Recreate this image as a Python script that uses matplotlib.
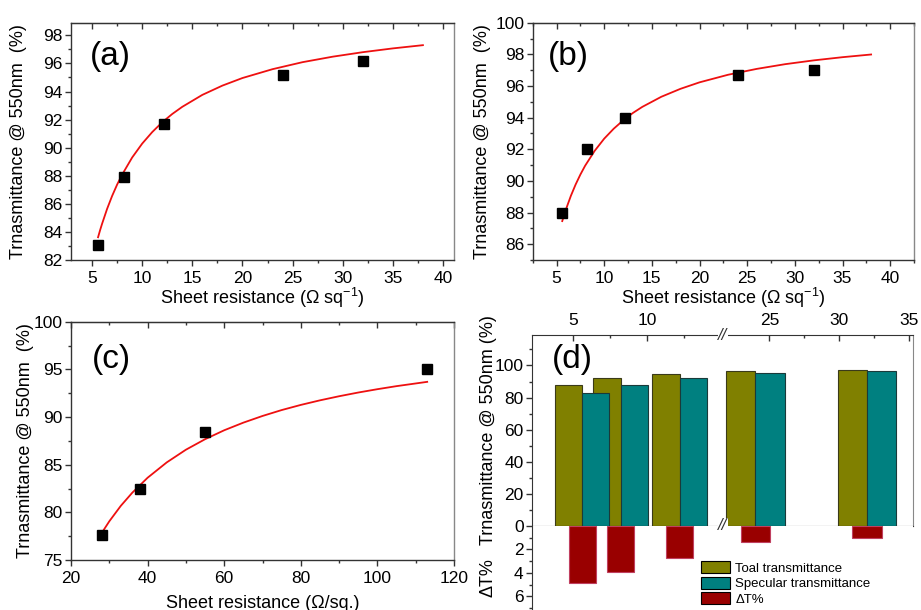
import numpy as np
import matplotlib
matplotlib.use('Agg')
import matplotlib.pyplot as plt
from matplotlib.ticker import MultipleLocator, FixedLocator
from matplotlib.patches import Patch
from matplotlib.transforms import blended_transform_factory

plt.rcParams['font.family'] = ['Liberation Sans', 'DejaVu Sans']
plt.rcParams['mathtext.fontset'] = 'custom'
plt.rcParams['mathtext.rm'] = 'Liberation Sans'
plt.rcParams['mathtext.it'] = 'Liberation Sans:italic'
plt.rcParams['mathtext.bf'] = 'Liberation Sans:bold'

# ---------------- data ----------------
rs_ab = [5.6, 8.2, 12.2, 24, 32]
t_a = [83.1, 87.9, 91.7, 95.2, 96.2]
fit_a_x = [5.6, 5.8, 6, 6.5, 7, 7.5, 8, 9, 10, 11, 12, 13, 14, 16, 18, 20,
           23, 26, 29, 32, 35, 38]
fit_a_y = [83.62, 84.12, 84.58, 85.64, 86.56, 87.37, 88.08, 89.30, 90.29,
           91.11, 91.81, 92.40, 92.91, 93.76, 94.42, 94.96, 95.59, 96.09,
           96.48, 96.80, 97.07, 97.30]

t_b = [88.0, 92.0, 94.0, 96.7, 97.0]
fit_b_x = [5.6, 5.8, 6, 6.5, 7, 7.5, 8, 9, 10, 11, 12, 13, 14, 16, 18, 20,
           23, 26, 29, 32, 35, 38]
fit_b_y = [87.46, 87.85, 88.22, 89.05, 89.77, 90.40, 90.96, 91.90, 92.67,
           93.30, 93.83, 94.29, 94.68, 95.32, 95.82, 96.23, 96.71, 97.08,
           97.38, 97.62, 97.82, 97.99]

rs_c = [28, 38, 55, 113]
t_c = [77.6, 82.4, 88.4, 95.0]
fit_c_x = [28, 30, 33, 36, 40, 45, 50, 55, 60, 65, 70, 75, 80, 85, 90, 95,
           100, 105, 113]
fit_c_y = [77.82, 79.06, 80.68, 82.06, 83.63, 85.24, 86.57, 87.67, 88.61,
           89.41, 90.11, 90.73, 91.27, 91.75, 92.18, 92.57, 92.92, 93.24, 93.69]

rs_d = [5.6, 8.2, 12.2, 24, 32]
total_d = [87.9, 92.1, 94.6, 96.7, 97.1]
specular_d = [82.7, 87.9, 91.9, 95.4, 96.5]
delta_d = [4.9, 3.9, 2.7, 1.4, 1.05]
d_xticks = [5, 10, 25, 30, 35]
legend_labels = ['Toal transmittance', 'Specular transmittance', 'ΔT%']

# ---------------- figure ----------------
W, H = 921, 610
fig = plt.figure(figsize=(W / 100, H / 100), dpi=100)


def px_axes(l, t, r, b, **kw):
    return fig.add_axes([l / W, 1 - b / H, (r - l) / W, (b - t) / H], **kw)


SPC = '#333333'
TICK = dict(labelsize=12.5)


def style(ax, xmaj, xmin, ymaj, ymin):
    for s in ['left', 'bottom', 'top']:
        ax.spines[s].set_color(SPC)
    ax.spines['right'].set_color('#888888')
    for s in ax.spines.values():
        s.set_linewidth(1.0)
    ax.xaxis.set_major_locator(MultipleLocator(xmaj))
    ax.xaxis.set_minor_locator(MultipleLocator(xmin))
    ax.yaxis.set_major_locator(MultipleLocator(ymaj))
    ax.yaxis.set_minor_locator(MultipleLocator(ymin))
    ax.tick_params(axis='both', which='both', direction='out', color=SPC,
                   top=False, right=False, **TICK)
    ax.tick_params(which='major', length=4, width=1)
    ax.tick_params(which='minor', length=2.2, width=1)
    ax.tick_params(axis='x', which='both', pad=4)
    ax.tick_params(axis='y', which='both', pad=2)
    sec = ax.secondary_xaxis('top')
    sec.xaxis.set_major_locator(MultipleLocator(xmaj))
    sec.xaxis.set_minor_locator(MultipleLocator(xmin))
    sec.tick_params(axis='x', which='both', direction='in', labeltop=False,
                    color=SPC, width=1)
    sec.tick_params(which='major', length=4)
    sec.tick_params(which='minor', length=2.2)
    sec.spines['top'].set_color(SPC)


def labels(ax, xl, yl, xoff_px, yoff_px, axw, axh):
    ax.set_xlabel(xl, fontsize=13, va='center')
    ax.set_ylabel(yl, fontsize=13, va='center')
    ax.xaxis.set_label_coords(0.5, -yoff_px / axh)
    ax.yaxis.set_label_coords(-xoff_px / axw, 0.5)


# ---- (a)
ax_a = px_axes(71, 22.7, 454, 260)
ax_a.plot(fit_a_x, fit_a_y, color='#ee1010', lw=1.3, zorder=2)
ax_a.plot(rs_ab, t_a, 's', color='black', ms=7, zorder=3)
ax_a.set_xlim(2.9, 41.1)
ax_a.set_ylim(82, 98.9)
style(ax_a, 5, 2.5, 2, 1)
labels(ax_a, 'Sheet resistance (Ω sq$^{-1}$)', 'Trnasmittance @ 550nm  (%)',
       52, 38, 383, 237.3)
ax_a.text(0.05, 0.857, '(a)', transform=ax_a.transAxes, fontsize=24,
          va='center', ha='left')

# ---- (b)
ax_b = px_axes(532.7, 22.7, 914, 260)
ax_b.plot(fit_b_x, fit_b_y, color='#ee1010', lw=1.3, zorder=2)
ax_b.plot(rs_ab, t_b, 's', color='black', ms=7, zorder=3)
ax_b.set_xlim(2.5, 42.5)
ax_b.set_ylim(85, 100)
style(ax_b, 5, 2.5, 2, 1)
labels(ax_b, 'Sheet resistance (Ω sq$^{-1}$)', 'Trnasmittance @ 550nm  (%)',
       50, 38, 381.3, 237.3)
ax_b.text(0.04, 0.857, '(b)', transform=ax_b.transAxes, fontsize=24,
          va='center', ha='left')

# ---- (c)
ax_c = px_axes(71, 321.7, 454, 560)
ax_c.plot(fit_c_x, fit_c_y, color='#ee1010', lw=1.3, zorder=2)
ax_c.plot(rs_c, t_c, 's', color='black', ms=7, zorder=3)
ax_c.set_xlim(20, 120)
ax_c.set_ylim(75, 100)
style(ax_c, 20, 10, 5, 2.5)
labels(ax_c, 'Sheet resistance (Ω/sq.)', 'Trnasmittance @ 550nm  (%)',
       46, 43, 383, 238.3)
ax_c.text(0.055, 0.84, '(c)', transform=ax_c.transAxes, fontsize=24,
          va='center', ha='left')

# ---- (d) broken x axis via piecewise-linear scale
B1, B2, R, EPS = 15.1, 21.7, 0.946, 0.01
G = B1 + EPS * (B2 - B1)


def fwd(x):
    x = np.asarray(x, dtype=float)
    return np.where(x <= B1, x,
                    np.where(x >= B2, G + (x - B2) * R, B1 + (x - B1) * EPS))


def inv(y):
    y = np.asarray(y, dtype=float)
    return np.where(y <= B1, y,
                    np.where(y >= G, B2 + (y - G) / R, B1 + (y - B1) / EPS))


ax_up = px_axes(532, 335, 913, 526)
ax_up.set_xscale('function', functions=(fwd, inv))
ax_up.set_xlim(2.2, 35.29)
ax_up.set_ylim(0, 119)
ax_lo = px_axes(532, 526, 913, 614, sharex=ax_up)
ax_lo.set_ylim(7.5, 0)

rs_arr = np.asarray(rs_d)
wid = np.where(rs_arr > 20, 2.1, 1.85)
olive, teal, dred = '#808000', '#008080', '#990000'
ax_up.bar(rs_d, total_d, width=-wid, align='edge', color=olive,
          edgecolor='#3a3a1a', lw=0.8, zorder=2)
ax_up.bar(rs_d, specular_d, width=wid, align='edge', color=teal,
          edgecolor='#1a3a3a', lw=0.8, zorder=2)
ax_lo.bar(rs_d, delta_d, width=wid, align='center', color=dred,
          edgecolor='#c04060', lw=0.8, zorder=2)

for s in ['left', 'bottom', 'top']:
    ax_up.spines[s].set_color(SPC)
ax_up.spines['right'].set_color('#888888')
ax_up.xaxis.set_major_locator(FixedLocator(d_xticks))
ax_up.xaxis.set_minor_locator(FixedLocator([7.5, 12.5, 27.5, 32.5]))
ax_up.yaxis.set_major_locator(MultipleLocator(20))
ax_up.yaxis.set_minor_locator(MultipleLocator(10))
ax_up.tick_params(axis='both', which='both', direction='out', color=SPC,
                  top=False, right=False, labelbottom=False, **TICK)
ax_up.tick_params(which='major', length=4, width=1)
ax_up.tick_params(which='minor', length=2.2, width=1)
ax_up.tick_params(axis='y', which='both', pad=2)
ax_up.set_ylabel('Trnasmittance @ 550nm (%)', fontsize=13, va='center')
ax_up.yaxis.set_label_coords(-44 / 381, 0.5)
ax_up.text(0.052, 0.87, '(d)', transform=ax_up.transAxes, fontsize=24,
           va='center', ha='left')

for s in ['top', 'right', 'bottom']:
    ax_lo.spines[s].set_visible(False)
ax_lo.spines['left'].set_color(SPC)
ax_lo.yaxis.set_major_locator(FixedLocator([2, 4, 6]))
ax_lo.yaxis.set_minor_locator(FixedLocator([1, 3, 5, 7]))
ax_lo.tick_params(axis='x', which='both', bottom=False, labelbottom=False)
ax_lo.tick_params(axis='y', which='both', direction='out', color=SPC,
                  pad=2, **TICK)
ax_lo.tick_params(axis='y', which='major', length=4, width=1)
ax_lo.tick_params(axis='y', which='minor', length=2.2, width=1)
ax_lo.set_ylabel('ΔT%', fontsize=13, va='center')
ax_lo.yaxis.set_label_coords(-44 / 381, 0.41)

ax_t = ax_up.twiny()
ax_t.set_xscale('function', functions=(fwd, inv))
ax_t.set_xlim(2.2, 35.29)
for s in ax_t.spines.values():
    s.set_visible(False)
ax_t.xaxis.set_major_locator(FixedLocator(d_xticks))
ax_t.xaxis.set_minor_locator(FixedLocator([7.5, 12.5, 27.5, 32.5]))
ax_t.tick_params(axis='x', which='both', direction='in', color=SPC, pad=5,
                 **TICK)
ax_t.tick_params(which='major', length=4, width=1)
ax_t.tick_params(which='minor', length=2.2, width=1)

brk = blended_transform_factory(ax_t.transData, ax_t.transAxes)
for yy in (1.0, 0.0):
    ax_t.text(18.4, yy, '//', transform=brk, ha='center', va='center',
              fontsize=12, color=SPC, style='italic',
              bbox=dict(fc='white', ec='none', pad=0.3))

handles = [Patch(facecolor=olive, edgecolor='black', lw=0.8),
           Patch(facecolor=teal, edgecolor='black', lw=0.8),
           Patch(facecolor=dred, edgecolor='black', lw=0.8)]
fig.legend(handles, legend_labels, loc='upper left',
           bbox_to_anchor=(701 / W, 1 - 561 / H),
           bbox_transform=fig.transFigure, frameon=False, fontsize=9.5,
           handlelength=2.2, handleheight=1.05, handletextpad=0.4,
           labelspacing=0.15, borderpad=0, borderaxespad=0)

fig.savefig('out.png', dpi=100, facecolor='white')
